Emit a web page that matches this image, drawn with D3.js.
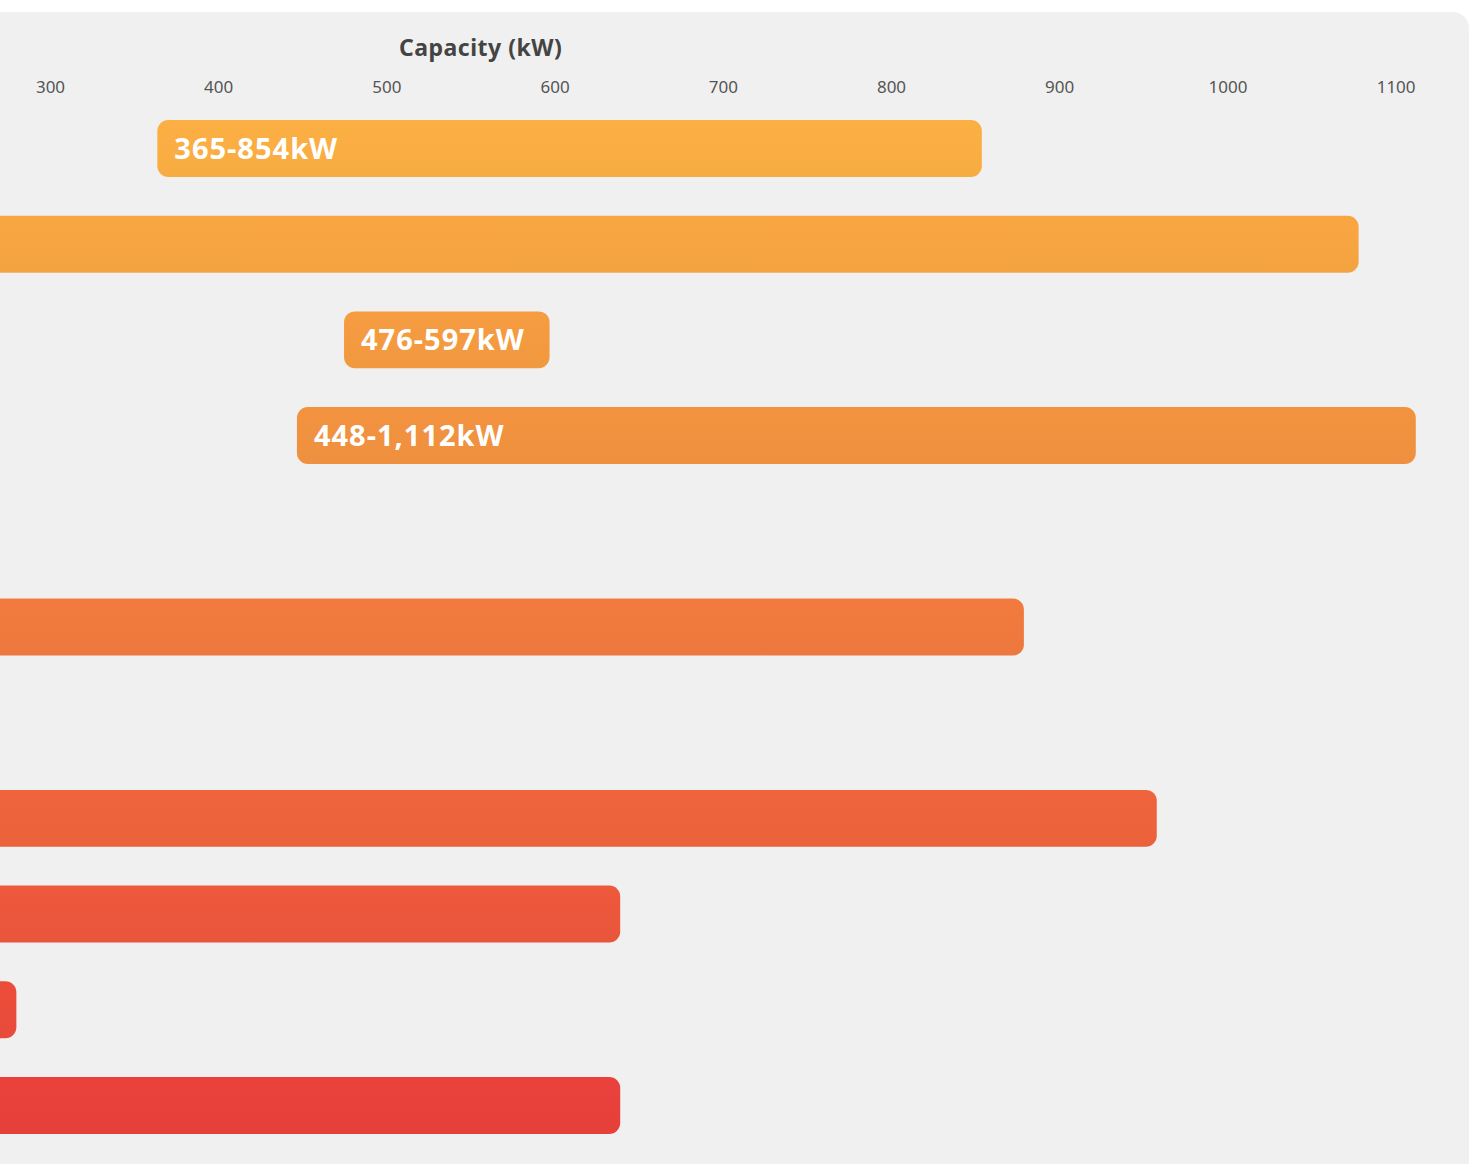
<!DOCTYPE html>
<html>
<head>
<meta charset="utf-8">
<script src="https://cdn.jsdelivr.net/npm/d3@7"></script>
<style>
  html, body { margin: 0; padding: 0; background: #ffffff; }
  svg { display: block; }
</style>
</head>
<body>
<div id="chart"></div>
<script>
// ---- data ----
const categories = ["Row 1", "Row 2", "Row 3", "Row 4", "Row 5", "Row 6", "Row 7", "Row 8", "Row 9", "Row 10", "Row 11"];
const minValues  = [365, 120, 476, 448, 120, 100, 100, 130, 150, 150, 90];
const maxValues  = [854, 1078, 597, 1112, 250, 879, 260, 958, 639, 280, 639];
const tickValues = [0, 100, 200, 300, 400, 500, 600, 700, 800, 900, 1000, 1100];
const axisTitle = "Capacity (kW)";
const colorStops = ["#f9ad42", "#f0913f", "#ef793d", "#ec633b", "#e8403a"];
const colorStopIdx = [0, 3, 5, 7, 10];

const W = 1469, H = 1164;
const svg = d3.select("#chart").append("svg").attr("width", W).attr("height", H);

// panel background
svg.append("rect")
  .attr("x", -30).attr("y", 12)
  .attr("width", W + 30).attr("height", H + 40)
  .attr("rx", 16).attr("fill", "#f0f0f0");

const x = d3.scaleLinear().domain([0, d3.max(maxValues)]).range([-454.6, 1415.8]);
// band step 95.7, first band top at 120
const step = 95.7, inner = 0.405, outer = 0.2;
const r0y = 120 - outer * step;
const r1y = r0y + step * (categories.length - inner + 2 * outer);
const y = d3.scaleBand().domain(categories).range([r0y, r1y])
  .paddingInner(inner).paddingOuter(outer);

const color = d3.scaleLinear().domain(colorStopIdx).range(colorStops).interpolate(d3.interpolateRgb);

// axis title
const [r0, r1] = x.range();
svg.append("text")
  .attr("x", (r0 + r1) / 2).attr("y", 56)
  .attr("text-anchor", "middle")
  .attr("font-family", "'Noto Sans', sans-serif")
  .attr("font-weight", 700).attr("font-size", 23)
  .attr("letter-spacing", 0.5)
  .attr("fill", "#444444")
  .text(axisTitle);

// top axis
const axis = svg.append("g").attr("transform", "translate(0,82)")
  .call(d3.axisTop(x).tickValues(tickValues).tickSize(0).tickPadding(0).tickFormat(d3.format("d")));
axis.select(".domain").remove();
axis.selectAll("text")
  .attr("dy", "0.32em").attr("y", 6)
  .attr("font-family", "'Noto Sans', sans-serif")
  .attr("font-size", 17).attr("fill", "#555555");

// gradients per bar
const defs = svg.append("defs");
categories.forEach((c, i) => {
  const base = d3.rgb(color(i));
  const g = defs.append("linearGradient").attr("id", "g" + i)
    .attr("x1", 0).attr("y1", 0).attr("x2", 0).attr("y2", 1);
  g.append("stop").attr("offset", "0%").attr("stop-color", base.brighter(0.03).formatHex());
  g.append("stop").attr("offset", "100%").attr("stop-color", base.darker(0.02).formatHex());
});

const rows = categories.map((c, i) => ({ c, i, lo: minValues[i], hi: maxValues[i] }));

svg.selectAll("rect.bar").data(rows).join("rect")
  .attr("class", "bar")
  .attr("x", d => x(d.lo) - 2)
  .attr("y", d => y(d.c))
  .attr("width", d => x(d.hi) - x(d.lo) + 2)
  .attr("height", y.bandwidth())
  .attr("rx", 11)
  .attr("fill", d => `url(#g${d.i})`);

const fmt = d3.format(",");
svg.selectAll("text.lbl").data(rows).join("text")
  .attr("class", "lbl")
  .attr("x", d => x(d.lo) + 15)
  .attr("y", d => y(d.c) + y.bandwidth() / 2)
  .attr("dy", "0.36em")
  .attr("font-family", "'Noto Sans', sans-serif")
  .attr("font-weight", 700).attr("font-size", 29)
  .attr("letter-spacing", 1)
  .attr("fill", "#ffffff")
  .text(d => `${fmt(d.lo)}-${fmt(d.hi)}kW`);
</script>
</body>
</html>
